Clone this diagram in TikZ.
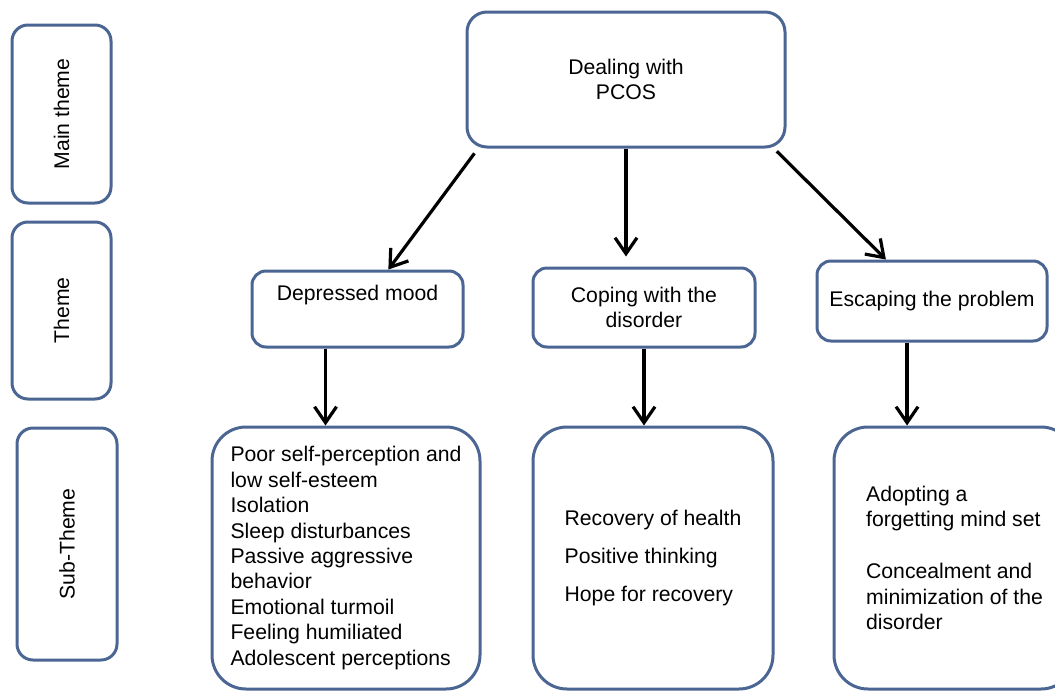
\documentclass[tikz,border=0pt]{standalone}
\usepackage{fontspec}
\setmainfont{Liberation Sans}
\usetikzlibrary{arrows.meta}
\definecolor{boxblue}{RGB}{76,102,148}

\begin{document}
\begin{tikzpicture}[x=0.5pt,y=-0.5pt,->,>={Straight Barb[length=8pt,width=11pt]},line width=1.6pt,
  box/.style={draw=boxblue,line width=1.5pt,rounded corners=7pt,inner sep=2pt,
    font=\fontsize{10.6}{12.7}\selectfont},
  levelbox/.style={box,rotate=90,rounded corners=8pt},
  subbox/.style={box,rounded corners=17pt,align=left}]
  \clip (0,0) rectangle (1055,691);
  % left column
  \node[levelbox, minimum width=89pt, minimum height=49.5pt] (mainlbl) at (61.5,114) {Main theme};
  \node[levelbox, minimum width=88.5pt, minimum height=49.5pt] (themelbl) at (61.5,310.5) {Theme};
  \node[levelbox, minimum width=116pt, minimum height=50pt] (sublbl) at (67,544) {Sub-Theme};

  \node[box, rounded corners=10pt, align=center, minimum width=159pt, minimum height=67.5pt] (pcos) at (626,79.5) {Dealing with\\PCOS};

  \node[box, text depth=16.5pt, minimum width=105.5pt, minimum height=38pt] (mood) at (357.5,309) {Depressed mood};
  \node[box, align=center, minimum width=111pt, minimum height=39.5pt] (coping) at (644,307.5) {Coping with the\\disorder};
  \node[box, minimum width=115pt, minimum height=40pt] (escape) at (932,301) {Escaping the problem};

  \node[subbox, minimum width=134pt, minimum height=131pt] (sub1) at (346,558) {Poor self-perception and\\low self-esteem\\Isolation\\Sleep disturbances\\Passive aggressive\\behavior\\Emotional turmoil\\Feeling humiliated\\Adolescent perceptions};
  \node[subbox, minimum width=120pt, minimum height=131pt] (sub2) at (653,558) {Recovery of health\\[6.3pt]Positive thinking\\[6.3pt]Hope for recovery};
  \node[subbox, minimum width=120.5pt, minimum height=131pt] (sub3) at (954.5,558) {Adopting a\\forgetting mind set\\[13.3pt]Concealment and\\minimization of the\\disorder};

  \path (pcos.205) edge[shorten <=3pt] (mood.52)
  (pcos) edge[shorten >=5pt] (pcos |- coping.north)
  (pcos.-25) edge[shorten <=2pt] (escape.138)
  (mood.231) edge (mood.231 |- sub1.north)
  (coping) edge (coping |- sub2.north)
  (escape.239) edge (escape.239 |- sub3.north)
            ;
\end{tikzpicture}
\end{document}
